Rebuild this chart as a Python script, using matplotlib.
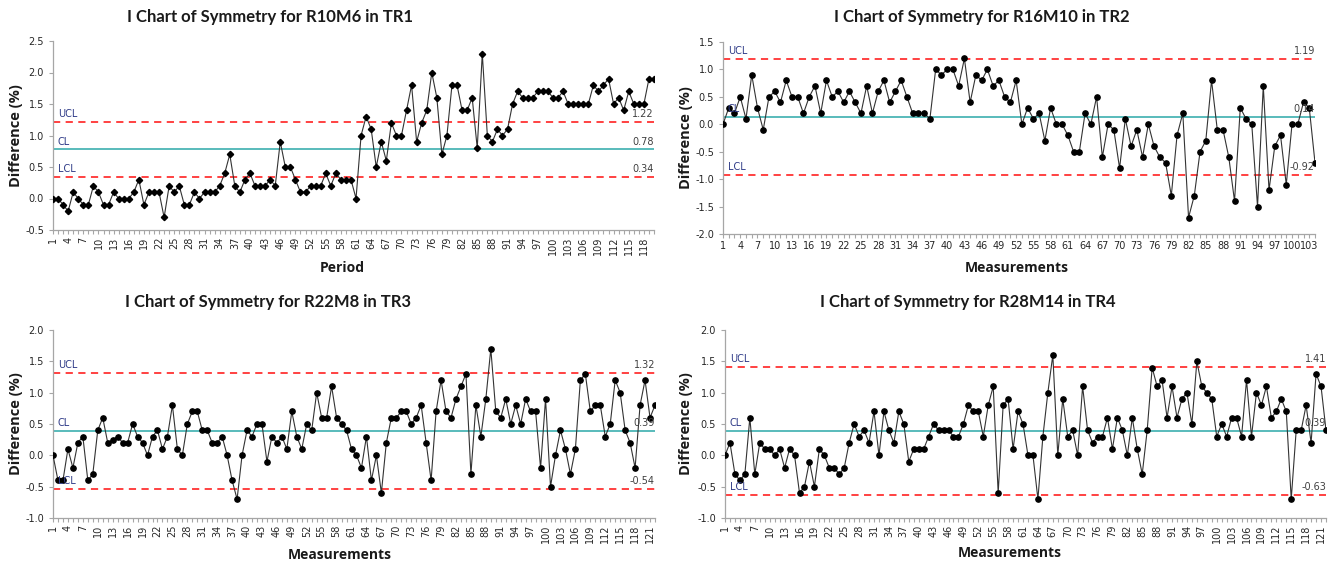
import numpy as np
import matplotlib
matplotlib.use("Agg")
import matplotlib.pyplot as plt
from matplotlib.ticker import MultipleLocator, FormatStrFormatter

# ---------------------------------------------------------------- data
tr1_values = [0.0, 0.0, -0.1, -0.2, 0.1, 0.0, -0.1, -0.1, 0.2, 0.1,
              -0.1, -0.1, 0.1, 0.0, 0.0, 0.0, 0.1, 0.3, -0.1, 0.1,
              0.1, 0.1, -0.3, 0.2, 0.1, 0.2, -0.1, -0.1, 0.1, 0.0,
              0.1, 0.1, 0.1, 0.2, 0.4, 0.7, 0.2, 0.1, 0.3, 0.4,
              0.2, 0.2, 0.2, 0.3, 0.2, 0.9, 0.5, 0.5, 0.3, 0.1,
              0.1, 0.2, 0.2, 0.2, 0.4, 0.2, 0.4, 0.3, 0.3, 0.3,
              0.0, 1.0, 1.3, 1.1, 0.5, 0.9, 0.6, 1.2, 1.0, 1.0,
              1.4, 1.8, 0.9, 1.2, 1.4, 2.0, 1.6, 0.7, 1.0, 1.8,
              1.8, 1.4, 1.4, 1.6, 0.8, 2.3, 1.0, 0.9, 1.1, 1.0,
              1.1, 1.5, 1.7, 1.6, 1.6, 1.6, 1.7, 1.7, 1.7, 1.6,
              1.6, 1.7, 1.5, 1.5, 1.5, 1.5, 1.5, 1.8, 1.7, 1.8,
              1.9, 1.5, 1.6, 1.4, 1.7, 1.5, 1.5, 1.5, 1.9, 1.9]

tr2_values = [0.0, 0.3, 0.2, 0.5, 0.1, 0.9, 0.3, -0.1, 0.5, 0.6,
              0.4, 0.8, 0.5, 0.5, 0.2, 0.5, 0.7, 0.2, 0.8, 0.5,
              0.6, 0.4, 0.6, 0.4, 0.2, 0.7, 0.2, 0.6, 0.8, 0.4,
              0.6, 0.8, 0.5, 0.2, 0.2, 0.2, 0.1, 1.0, 0.9, 1.0,
              1.0, 0.7, 1.2, 0.4, 0.9, 0.8, 1.0, 0.7, 0.8, 0.5,
              0.4, 0.8, 0.0, 0.3, 0.1, 0.2, -0.3, 0.3, 0.0, 0.0,
              -0.2, -0.5, -0.5, 0.2, 0.0, 0.5, -0.6, 0.0, -0.1, -0.8,
              0.1, -0.4, -0.1, -0.6, 0.0, -0.4, -0.6, -0.7, -1.3, -0.2,
              0.2, -1.7, -1.3, -0.5, -0.3, 0.8, -0.1, -0.1, -0.6, -1.4,
              0.3, 0.1, 0.0, -1.5, 0.7, -1.2, -0.4, -0.2, -1.1, 0.0,
              0.0, 0.4, 0.3, -0.7]

tr3_values = [0.0, -0.4, -0.4, 0.1, -0.2, 0.2, 0.3, -0.4, -0.3, 0.4,
              0.6, 0.2, 0.25, 0.3, 0.2, 0.2, 0.5, 0.3, 0.2, 0.0,
              0.3, 0.4, 0.1, 0.3, 0.8, 0.1, 0.0, 0.5, 0.7, 0.7,
              0.4, 0.4, 0.2, 0.2, 0.3, 0.0, -0.4, -0.7, 0.0, 0.4,
              0.3, 0.5, 0.5, -0.1, 0.3, 0.2, 0.3, 0.1, 0.7, 0.3,
              0.1, 0.5, 0.4, 1.0, 0.6, 0.6, 1.1, 0.6, 0.5, 0.4,
              0.1, 0.0, -0.2, 0.3, -0.4, 0.0, -0.6, 0.2, 0.6, 0.6,
              0.7, 0.7, 0.5, 0.6, 0.8, 0.2, -0.4, 0.7, 1.2, 0.7,
              0.6, 0.9, 1.1, 1.3, -0.3, 0.8, 0.3, 0.9, 1.7, 0.7,
              0.6, 0.9, 0.5, 0.8, 0.5, 0.9, 0.7, 0.7, -0.2, 0.9,
              -0.5, 0.0, 0.4, 0.1, -0.3, 0.1, 1.2, 1.3, 0.7, 0.8,
              0.8, 0.3, 0.5, 1.2, 1.0, 0.4, 0.2, -0.2, 0.8, 1.2,
              0.6, 0.8]

tr4_values = [0.0, 0.2, -0.3, -0.4, -0.3, 0.6, -0.3, 0.2, 0.1, 0.1,
              0.0, 0.1, -0.2, 0.1, 0.0, -0.6, -0.5, -0.1, -0.5, 0.1,
              0.0, -0.2, -0.2, -0.3, -0.2, 0.2, 0.5, 0.3, 0.4, 0.2,
              0.7, 0.0, 0.7, 0.4, 0.2, 0.7, 0.5, -0.1, 0.1, 0.1,
              0.1, 0.3, 0.5, 0.4, 0.4, 0.4, 0.3, 0.3, 0.5, 0.8,
              0.7, 0.7, 0.3, 0.8, 1.1, -0.6, 0.8, 0.9, 0.1, 0.7,
              0.5, 0.0, 0.0, -0.7, 0.3, 1.0, 1.6, 0.0, 0.9, 0.3,
              0.4, 0.0, 1.1, 0.4, 0.2, 0.3, 0.3, 0.6, 0.1, 0.6,
              0.4, 0.0, 0.6, 0.1, -0.3, 0.4, 1.4, 1.1, 1.2, 0.6,
              1.1, 0.6, 0.9, 1.0, 0.5, 1.5, 1.1, 1.0, 0.9, 0.3,
              0.5, 0.3, 0.6, 0.6, 0.3, 1.2, 0.3, 1.0, 0.8, 1.1,
              0.6, 0.7, 0.9, 0.7, -0.7, 0.4, 0.4, 0.8, 0.2, 1.3,
              1.1, 0.4]

titles = ["I Chart of Symmetry for R10M6 in TR1",
          "I Chart of Symmetry for R16M10 in TR2",
          "I Chart of Symmetry for R22M8 in TR3",
          "I Chart of Symmetry for R28M14 in TR4"]
x_labels = ["Period", "Measurements", "Measurements", "Measurements"]
ucl_values = [1.22, 1.19, 1.32, 1.41]
cl_values = [0.78, 0.14, 0.39, 0.39]
lcl_values = [0.34, -0.92, -0.54, -0.63]
y_ranges = [(-0.5, 2.5), (-2.0, 1.5), (-1.0, 2.0), (-1.0, 2.0)]

# ---------------------------------------------------------------- layout
W, H = 1336, 565
fig = plt.figure(figsize=(W / 100, H / 100), dpi=100)

# axes boxes in pixels: left, top, right, bottom
boxes = [(53, 41, 654, 230),
         (723, 42, 1315, 234),
         (53, 330, 655, 518),
         (725, 330, 1326, 518)]
title_pos = [(270, 17), (982, 17), (268, 302), (968, 302)]
xlabel_pos = [(342, 268), (1017, 268), (340, 555), (1010, 553)]
ylabel_x = [16, 686, 16, 686]
rotate_ticks = [True, False, True, True]
markers = ["D", "o", "o", "o"]

grey = "#A6A6A6"
red = "#FF3333"
teal = "#4BB5B5"
navy = "#2E3A87"

all_values = [tr1_values, tr2_values, tr3_values, tr4_values]

for i in range(4):
    vals = all_values[i]
    x = np.arange(1, len(vals) + 1)
    l, t, r, b = boxes[i]
    ax = fig.add_axes([l / W, 1 - b / H, (r - l) / W, (b - t) / H])

    # control limits
    ax.axhline(ucl_values[i], color=red, lw=1.3, ls=(0, (4, 3)), zorder=1)
    ax.axhline(lcl_values[i], color=red, lw=1.3, ls=(0, (4, 3)), zorder=1)
    ax.axhline(cl_values[i], color=teal, lw=1.3, zorder=1)

    # data
    ms = 3.2 if markers[i] == "D" else 3.8
    ax.plot(x, vals, color="#333333", lw=0.8, marker=markers[i],
            markersize=ms, markerfacecolor="black", markeredgecolor="black",
            zorder=3)

    ax.set_xlim(1, len(vals))
    ax.set_ylim(*y_ranges[i])

    # limit labels
    for name, v in (("UCL", ucl_values[i]), ("CL", cl_values[i]), ("LCL", lcl_values[i])):
        ax.annotate(name, xy=(0.008, v), xycoords=("axes fraction", "data"),
                    xytext=(0, 2), textcoords="offset points",
                    fontsize=7, color=navy, ha="left", va="bottom")
        ax.annotate("%.2f" % v, xy=(1.0, v), xycoords=("axes fraction", "data"),
                    xytext=(0, 2), textcoords="offset points",
                    fontsize=7, color="#404040", ha="right", va="bottom")

    # spines and ticks
    for s in ("top", "right"):
        ax.spines[s].set_visible(False)
    for s in ("left", "bottom"):
        ax.spines[s].set_color(grey)
        ax.spines[s].set_linewidth(0.9)
    ax.yaxis.set_major_locator(MultipleLocator(0.5))
    ax.yaxis.set_major_formatter(FormatStrFormatter("%.1f"))
    ax.set_xticks(np.arange(1, len(vals) + 1, 3))
    ax.set_xticks(x, minor=True)
    ax.tick_params(axis="both", which="both", color=grey, length=3,
                   width=0.8, labelsize=7, labelcolor="#262626")
    ax.tick_params(axis="x", which="major", pad=2)
    if rotate_ticks[i]:
        plt.setp(ax.get_xticklabels(), rotation=90)

    # titles and axis labels
    fig.text(title_pos[i][0] / W, 1 - title_pos[i][1] / H, titles[i],
             ha="center", va="center", fontsize=12, fontweight="bold",
             family="Lato", color="#1A1A1A")
    fig.text(xlabel_pos[i][0] / W, 1 - xlabel_pos[i][1] / H, x_labels[i],
             ha="center", va="center", fontsize=10, fontweight="bold",
             family="Open Sans", color="#1A1A1A")
    fig.text(ylabel_x[i] / W, 1 - ((t + b) / 2) / H, "Difference (%)",
             ha="center", va="center", rotation=90, fontsize=10.5,
             fontweight="bold", family="Open Sans", color="#1A1A1A")

fig.savefig("out.png", dpi=100)
